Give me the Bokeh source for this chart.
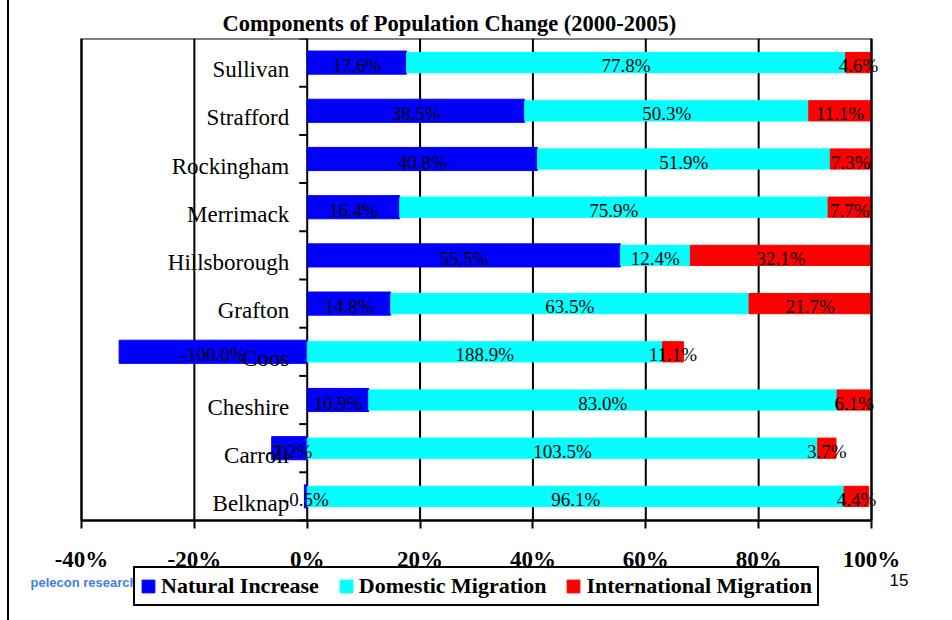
import numpy as np
from bokeh.plotting import figure
from bokeh.models import (ColumnDataSource, Range1d, FixedTicker, Legend, LegendItem, Label,
                          BoxAnnotation)
from bokeh.embed import file_html
from bokeh.resources import INLINE
from bokeh.core.properties import value

# ---------------- data ----------------
counties = ["Belknap", "Carroll", "Cheshire", "Coos", "Grafton",
            "Hillsborough", "Merrimack", "Rockingham", "Strafford", "Sullivan"]
natural = [-0.5, -7.2, 10.9, -100.0, 14.8, 55.5, 16.4, 40.8, 38.5, 17.6]
domestic = [96.1, 103.5, 83.0, 188.9, 63.5, 12.4, 75.9, 51.9, 50.3, 77.8]
international = [4.4, 3.7, 6.1, 11.1, 21.7, 32.1, 7.7, 7.3, 11.1, 4.6]
series_names = ["Natural Increase", "Domestic Migration", "International Migration"]
series_colors = ["#0000FF", "#00FFFF", "#FF0000"]
tick_values = [-40, -20, 0, 20, 40, 60, 80, 100]
tick_labels = ["-40%", "-20%", "0%", "20%", "40%", "60%", "80%", "100%"]
title_text = "Components of Population Change (2000-2005)"
page_number = "15"
logo_text = "pelecon research"

# --------------- stacking (100% stacked by absolute share) ---------------
series = [np.array(natural), np.array(domestic), np.array(international)]
total_abs = sum(np.abs(s) for s in series)
pos_base = np.zeros(len(counties))
neg_base = np.zeros(len(counties))
ys = np.arange(len(counties))

x_lo, x_hi = tick_values[0], tick_values[-1]
y_lo, y_hi = -0.5, len(counties) - 0.5

# frame covers whole canvas below the title; chart box drawn inside it
PX_X = 790 / (x_hi - x_lo)      # pixels per % unit
PX_Y = 482 / (y_hi - y_lo)      # pixels per category
FONT = value("Liberation Serif")

p = figure(width=943, height=620,
           x_range=Range1d(x_lo - 72 / PX_X, x_hi + 81 / PX_X),
           y_range=Range1d(y_lo - 100 / PX_Y, y_hi),
           output_backend="svg", toolbar_location=None, y_axis_location=None,
           min_border_left=0, min_border_right=0, min_border_top=38, min_border_bottom=0,
           styles={"border-left": "2px solid black", "margin-left": "7px"})
p.background_fill_color = "white"
p.border_fill_color = "white"
p.outline_line_color = None
p.xgrid.visible = False
p.ygrid.visible = False

# title
p.title.text = title_text
p.title.align = "left"
p.title.offset = 213
p.title.standoff = 6
p.title.text_font = "Liberation Serif"
p.title.text_font_style = "bold"
p.title.text_font_size = "22.5px"
p.title.text_color = "black"

# vertical grid lines within the chart box
p.segment(x0=tick_values, x1=tick_values, y0=y_lo, y1=y_hi, line_color="black", line_width=2)

# x axis fixed at bottom of chart box
xa = p.xaxis[0]
xa.fixed_location = y_lo
xa.bounds = (x_lo, x_hi)
xa.ticker = FixedTicker(ticks=tick_values)
xa.major_label_overrides = {v: l for v, l in zip(tick_values, tick_labels)}
xa.axis_line_color = "black"
xa.axis_line_width = 2
xa.major_tick_line_color = "black"
xa.major_tick_line_width = 2
xa.major_tick_out = 8
xa.major_tick_in = 0
xa.minor_tick_line_color = None
xa.major_label_text_font = "Liberation Serif"
xa.major_label_text_font_style = "bold"
xa.major_label_text_font_size = "23px"
xa.major_label_text_color = "black"
xa.major_label_standoff = 18

renderers = []
label_x, label_y, label_t = [], [], []
for vals, name, col in zip(series, series_names, series_colors):
    share = vals / total_abs * 100.0
    left = np.where(share >= 0, pos_base, neg_base + share)
    right = np.where(share >= 0, pos_base + share, neg_base)
    pos_base = np.where(share >= 0, pos_base + share, pos_base)
    neg_base = np.where(share < 0, neg_base + share, neg_base)
    src = ColumnDataSource(dict(y=ys, left=left, right=right))
    h = 0.48 if name == series_names[0] else 0.42
    r = p.hbar(y="y", left="left", right="right", height=h, source=src,
               fill_color=col, line_color=col, line_width=1)
    renderers.append(r)
    label_x.extend(list((left + right) / 2))
    label_y.extend(list(ys))
    label_t.extend([f"{v:.1f}%" for v in vals])

# chart box outline
p.add_layout(BoxAnnotation(left=x_lo, right=x_hi, bottom=y_lo, top=y_hi,
                           fill_alpha=0, line_color="black", line_width=2, line_alpha=1))

# y-axis tick marks at category boundaries (on the 0 line)
bounds = np.arange(len(counties) + 1) - 0.5
p.segment(x0=-8 / PX_X, x1=0, y0=bounds, y1=bounds, line_color="black", line_width=2)

# category labels
p.text(x=0, y=ys, text=counties, x_offset=-18, y_offset=7,
       text_align="right", text_baseline="alphabetic",
       text_font=FONT, text_font_size="23px", text_color="black")

# value labels
p.text(x=label_x, y=label_y, text=label_t, y_offset=3,
       text_align="center", text_baseline="alphabetic",
       text_font=FONT, text_font_size="19px", text_color="black")

# page number
p.add_layout(Label(x=880, y=41, x_units="screen", y_units="screen", text=page_number,
                   text_align="left", text_baseline="alphabetic",
                   text_font="Liberation Sans", text_font_size="17px", text_color="black"))
# logo text
p.add_layout(Label(x=21, y=38, x_units="screen", y_units="screen", text=logo_text,
                   text_align="left", text_baseline="alphabetic",
                   text_font="Liberation Sans", text_font_style="bold",
                   text_font_size="13px", text_color="#3c82e0"))

legend = Legend(items=[LegendItem(label=n, renderers=[r]) for n, r in zip(series_names, renderers)],
                orientation="horizontal", location=(124, 14))
legend.label_text_font = "Liberation Serif"
legend.label_text_font_style = "bold"
legend.label_text_font_size = "22px"
legend.label_text_color = "black"
legend.border_line_color = "black"
legend.border_line_width = 2
legend.border_line_alpha = 1
legend.background_fill_color = "white"
legend.background_fill_alpha = 1
legend.glyph_width = 16
legend.glyph_height = 16
legend.label_standoff = 5
legend.spacing = 19
legend.padding = 5
legend.margin = 0
p.add_layout(legend, "center")

open("out.html", "w").write(file_html(p, INLINE))
